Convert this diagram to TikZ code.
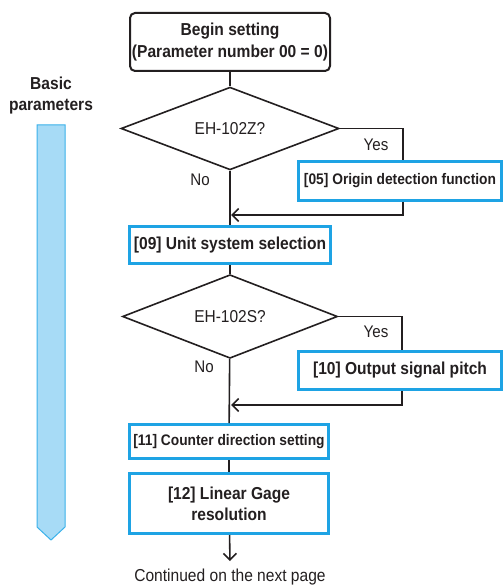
\documentclass[tikz,border=0pt]{standalone}
\usepackage{fontspec}
\setmainfont[FakeStretch=0.9]{Liberation Sans}
\usetikzlibrary{shapes.geometric,arrows.meta}
\definecolor{tx}{HTML}{231F20}
\definecolor{bl}{HTML}{1EA3E4}
\definecolor{barfill}{HTML}{A7DBF6}
\definecolor{barline}{HTML}{3AB1EA}
\begin{document}
\begin{tikzpicture}[x=1pt,y=-1pt,
  every node/.style={text=tx},
  bigf/.style={font=\fontsize{17.3}{21}\selectfont\bfseries},
  smallf/.style={font=\fontsize{15.3}{18}\selectfont\bfseries},
  bluebox/.style={draw=bl, line width=3pt, fill=white, inner sep=0pt, align=center},
  decision/.style={diamond, draw=tx, line width=1.6pt, inner sep=0pt, fill=white, font=\fontsize{17.2}{20}\selectfont},
  flow/.style={draw=tx, line width=1.6pt},
  arr/.style={flow, -{Straight Barb[length=6.5pt,width=13pt,line width=1.6pt]}},
  lbl/.style={font=\fontsize{16.8}{18}\selectfont}]
\useasboundingbox (0,0) rectangle (503,585);

% side bar
\draw[barline, fill=barfill, line width=1pt] (37,125) -- (65,125) -- (65,527) -- (51,540) -- (37,527) -- cycle;
\node[bigf, align=center] (bp) at (51,96) {Basic\\parameters};

% nodes
\node[draw=tx, line width=2pt, rounded corners=5pt, fill=white, minimum width=200pt, minimum height=58pt, align=center, inner sep=0pt, font=\fontsize{17.3}{22}\selectfont\bfseries] (begin) at (230,42) {Begin setting\\(Parameter number 00 = 0)};
\node[decision, minimum width=218pt, minimum height=77pt] (d1) at (230,128.5) {EH-102Z?};
\node[bluebox, smallf, minimum width=203pt, minimum height=38pt] (b05) at (400,181) {[05] Origin detection function};
\node[bluebox, bigf, minimum width=201pt, minimum height=37pt] (b09) at (230,245) {[09] Unit system selection};
\node[decision, minimum width=215pt, minimum height=77pt] (d2) at (230,316.5) {EH-102S?};
\node[bluebox, bigf, minimum width=203pt, minimum height=38pt] (b10) at (400,370.5) {[10] Output signal pitch};
\node[bluebox, smallf, minimum width=199pt, minimum height=34pt] (b11) at (229,441.5) {[11] Counter direction setting};
\node[bluebox, bigf, minimum width=199pt, minimum height=60pt] (b12) at (229,503.5) {[12] Linear Gage\\resolution};

\coordinate (m1) at (231,215);
\coordinate (m2) at (231,405);
\coordinate (end) at (230,561);

% connectors
\draw[flow] (begin) -- (d1);
\draw[flow] (d1) -- (b09);
\draw[flow] (d1.east) -| ([xshift=3pt]b05.north);
\draw[arr] ([xshift=3pt]b05.south) |- (m1);
\draw[flow] (b09) -- (d2);
\draw[flow] (d2) -- (b11);
\draw[flow] (d2.east) -| ([xshift=2pt]b10.north);
\draw[arr] ([xshift=2pt]b10.south) |- (m2);
\draw[flow] (b11) -- (b12);
\draw[arr] (b12) -- (end);

% labels
\node[lbl] (y1) at (376,145) {Yes};
\node[lbl] (n1) at (200,180) {No};
\node[lbl] (y2) at (376,332) {Yes};
\node[lbl] (n2) at (204,367) {No};
\node[font=\fontsize{17.3}{18}\selectfont] (cont) at (230,577) {Continued on the next page};
\end{tikzpicture}
\end{document}
